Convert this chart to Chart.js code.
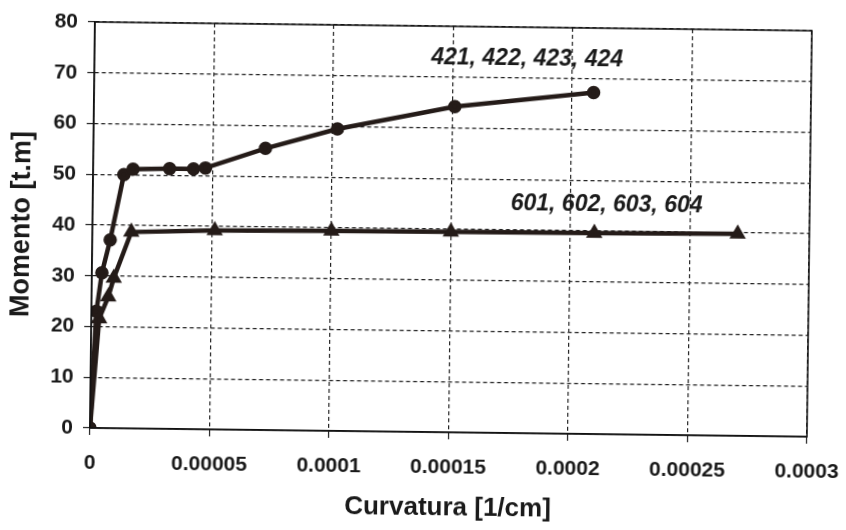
<!DOCTYPE html>
<html>
<head>
<meta charset="utf-8">
<script src="https://cdn.jsdelivr.net/npm/chart.js@4"></script>
<style>
  html, body { margin: 0; padding: 0; background: #fff; overflow: hidden; }
  /* the scanned figure sits slightly turned clockwise */
  #wrap { width: 846px; height: 530px; position: relative; transform: rotate(0.7deg); transform-origin: 50% 50%; background: #fff; }
</style>
</head>
<body>
<div id="wrap"><canvas id="chart"></canvas></div>
<script>
// curvature [1/cm] vs moment [t.m]
const curv421 = [0, 0.0000021, 0.0000042, 0.0000075, 0.0000129, 0.0000167, 0.000032, 0.000042, 0.000047, 0.000072, 0.000102, 0.000151, 0.000209];
const mom421 = [0, 23, 30.6, 37.1, 50.0, 51.1, 51.3, 51.3, 51.5, 55.5, 59.5, 64.2, 67.3];
const curv601 = [0, 0.0000033, 0.000007, 0.0000092, 0.0000163, 0.0000512, 0.0001, 0.00015, 0.00021, 0.00027];
const mom601 = [0, 21.6, 25.9, 29.6, 38.7, 39.2, 39.4, 39.5, 39.6, 39.8];

const xTicks = [0, 0.00005, 0.0001, 0.00015, 0.0002, 0.00025, 0.0003];
const yTicks = [0, 10, 20, 30, 40, 50, 60, 70, 80];

const seriesLabels = ["421, 422, 423, 424", "601, 602, 603, 604"];
const labelAnchors = [[0.000181, 73.7], [0.000215, 45.1]];

const ink = "#241b18";
const font = "'Liberation Sans', Arial, sans-serif";

function toPts(xs, ys) {
  return xs.map((x, i) => ({ x, y: ys[i] }));
}

const frame = {
  id: "frame",
  afterDraw(chart) {
    const { ctx, chartArea: a } = chart;
    ctx.save();
    ctx.strokeStyle = "#111";
    ctx.lineWidth = 1.5;
    ctx.strokeRect(a.left, a.top, a.right - a.left, a.bottom - a.top);
    ctx.restore();
  },
};

const seriesText = {
  id: "seriesText",
  afterDatasetsDraw(chart) {
    const { ctx, scales } = chart;
    ctx.save();
    ctx.fillStyle = "#1a1a1a";
    ctx.font = `italic bold 23px ${font}`;
    ctx.textAlign = "center";
    ctx.textBaseline = "middle";
    seriesLabels.forEach((t, i) => {
      const [vx, vy] = labelAnchors[i];
      ctx.fillText(t, scales.x.getPixelForValue(vx), scales.y.getPixelForValue(vy));
    });
    ctx.restore();
  },
};

new Chart(document.getElementById("chart"), {
  type: "line",
  data: {
    datasets: [
      {
        label: seriesLabels[0],
        data: toPts(curv421, mom421),
        borderColor: ink,
        backgroundColor: ink,
        borderWidth: 4.5,
        pointStyle: "circle",
        pointRadius: 4.5,
        pointBackgroundColor: ink,
        pointBorderColor: ink,
        tension: 0,
      },
      {
        label: seriesLabels[1],
        data: toPts(curv601, mom601),
        borderColor: ink,
        backgroundColor: ink,
        borderWidth: 4.5,
        pointStyle: "triangle",
        pointRadius: 5,
        pointBackgroundColor: ink,
        pointBorderColor: ink,
        tension: 0,
      },
    ],
  },
  options: {
    responsive: true,
    maintainAspectRatio: false,
    animation: false,
    layout: { padding: { left: 5, right: 37, top: 26, bottom: 7 } },
    plugins: { legend: { display: false }, tooltip: { enabled: false } },
    scales: {
      x: {
        type: "linear",
        min: 0,
        max: 0.0003,
        afterBuildTicks: (s) => { s.ticks = xTicks.map((v) => ({ value: v })); },
        afterFit: (s) => { s.height = 91; s.paddingLeft = 0; s.paddingRight = 0; },
        ticks: {
          color: "#1a1a1a",
          font: { family: font, size: 21, weight: "bold" },
          padding: 16,
          maxRotation: 0,
          callback: (v) => String(Number(v.toFixed(5))),
        },
        grid: { color: "#222", lineWidth: 1.2, tickLength: 7, drawTicks: true },
        border: { display: true, color: "#111", width: 1.5, dash: [4, 3] },
        title: {
          display: true,
          text: "Curvatura [1/cm]",
          color: "#1a1a1a",
          font: { family: font, size: 26, weight: "bold" },
          padding: 0,
        },
      },
      y: {
        min: 0,
        max: 80,
        afterBuildTicks: (s) => { s.ticks = yTicks.map((v) => ({ value: v })); },
        afterFit: (s) => { s.width = 87; s.paddingTop = 0; s.paddingBottom = 0; },
        ticks: {
          color: "#1a1a1a",
          font: { family: font, size: 21, weight: "bold" },
          padding: 10,
        },
        grid: { color: "#222", lineWidth: 1.2, tickLength: 7, drawTicks: true },
        border: { display: true, color: "#111", width: 1.5, dash: [4, 3] },
        title: {
          display: true,
          text: "Momento [t.m]",
          color: "#1a1a1a",
          font: { family: font, size: 27, weight: "bold" },
          padding: 0,
        },
      },
    },
  },
  plugins: [frame, seriesText],
});
</script>
</body>
</html>
